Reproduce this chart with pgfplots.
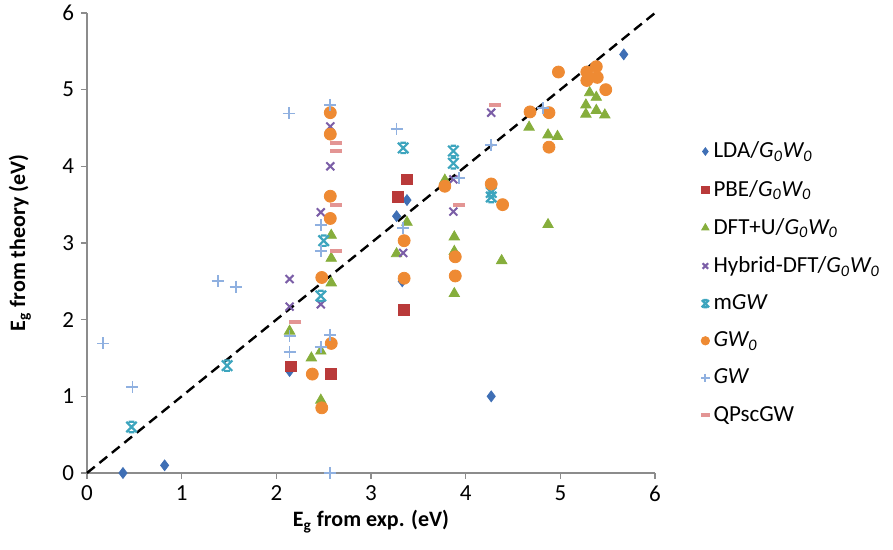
\documentclass[border=0pt]{standalone}
\usepackage{fontspec}
\setmainfont{Carlito}
\usepackage{pgfplots}
\pgfplotsset{compat=1.18}
\definecolor{cLDA}{HTML}{3F6FB5}
\definecolor{cPBE}{HTML}{B93A3A}
\definecolor{cDFTU}{HTML}{86AE3C}
\definecolor{cHyb}{HTML}{7B5EA7}
\definecolor{cmGW}{HTML}{3DA5BE}
\definecolor{cGWo}{HTML}{EE8A33}
\definecolor{cGW}{HTML}{8FB0E0}
\definecolor{cQP}{HTML}{E39594}
\definecolor{axgray}{HTML}{8C8C8C}
\pgfdeclareplotmark{mstar}{%
 \pgfpathmoveto{\pgfqpoint{-\pgfplotmarksize}{-\pgfplotmarksize}}%
 \pgfpathlineto{\pgfqpoint{\pgfplotmarksize}{\pgfplotmarksize}}%
 \pgfpathmoveto{\pgfqpoint{-\pgfplotmarksize}{\pgfplotmarksize}}%
 \pgfpathlineto{\pgfqpoint{\pgfplotmarksize}{-\pgfplotmarksize}}%
 \pgfpathmoveto{\pgfqpoint{-0.55\pgfplotmarksize}{\pgfplotmarksize}}%
 \pgfpathlineto{\pgfqpoint{0.55\pgfplotmarksize}{\pgfplotmarksize}}%
 \pgfpathmoveto{\pgfqpoint{-0.55\pgfplotmarksize}{-\pgfplotmarksize}}%
 \pgfpathlineto{\pgfqpoint{0.55\pgfplotmarksize}{-\pgfplotmarksize}}%
 \pgfusepathqstroke}
\begin{document}
\begin{tikzpicture}
\begin{axis}[
  scale only axis,
  width=284pt, height=230pt,
  xmin=0, xmax=6, ymin=0, ymax=6,
  xtick={0,1,...,6}, ytick={0,1,...,6},
  axis x line*=bottom, axis y line*=left,
  axis line style={axgray, line width=0.6pt},
  tick align=outside, major tick length=3pt,
  tick style={axgray, line width=0.6pt},
  /pgf/number format/assume math mode=true,
  ticklabel style={font=\fontsize{11.5}{13}\selectfont},
  xlabel={\textbf{E\textsubscript{g} from exp. (eV)}},
  ylabel={\textbf{E\textsubscript{g} from theory (eV)}},
  label style={font=\fontsize{11}{13}\selectfont},
  xlabel style={at={(axis description cs:0.5,-0.106)}, anchor=center},
  ylabel style={at={(axis description cs:-0.118,0.5)}, anchor=center},
  legend style={at={(1.07,0.413)}, anchor=west, draw=none, fill=none,
    row sep=5.6pt, font=\fontsize{11.5}{13}\selectfont},
  legend image post style={mark options={scale=0.7}},
  legend cell align=left,
  clip=false,
]
\addplot[only marks, mark=diamond*, mark size=2.7pt, color=cLDA] coordinates {
(0.38,0) (0.82,0.1) (2.14,1.33) (3.27,3.35) (3.38,3.56) (3.33,2.50) (4.27,1.00) (5.67,5.46)};
\addlegendentry{LDA/\textit{G\textsubscript{0}W\textsubscript{0}}}
\addplot[only marks, mark=square*, mark size=2.7pt, color=cPBE] coordinates {
(2.15,1.39) (2.58,1.29) (3.28,3.60) (3.38,3.83) (3.35,2.13)};
\addlegendentry{PBE/\textit{G\textsubscript{0}W\textsubscript{0}}}
\addplot[only marks, mark=triangle*, mark size=3.0pt, color=cDFTU] coordinates {
(2.14,1.85) (2.37,1.50) (2.47,1.59) (2.47,0.95) (2.58,2.48) (2.58,2.80) (2.58,3.10)
(3.27,2.86) (3.38,3.27) (3.78,3.82) (3.88,3.08) (3.88,2.89) (3.88,2.34) (4.38,2.77)
(4.67,4.51) (4.87,4.41) (4.97,4.39) (4.87,3.24) (5.31,4.96) (5.38,4.90) (5.27,4.80)
(5.38,4.73) (5.27,4.68) (5.47,4.67)};
\addlegendentry{DFT+U/\textit{G\textsubscript{0}W\textsubscript{0}}}
\addplot[only marks, mark=x, mark size=2.8pt, color=cHyb, line width=1pt] coordinates {
(2.14,2.17) (2.14,2.53) (2.47,2.20) (2.47,3.40) (2.57,4.52) (2.57,4.00) (3.34,2.87)
(3.87,3.83) (3.87,3.41) (4.27,4.70)};
\addlegendentry{Hybrid-DFT/\textit{G\textsubscript{0}W\textsubscript{0}}}
\addplot[only marks, mark=mstar, mark size=2.6pt, color=cmGW, line width=1.1pt] coordinates {
(0.47,0.60) (1.48,1.40) (2.47,2.31) (2.50,3.03) (3.34,4.24) (3.87,4.20) (3.87,4.04)
(4.27,3.66) (4.27,3.60)};
\addlegendentry{m\textit{GW}}
\addplot[only marks, mark=*, mark size=3.0pt, color=cGWo] coordinates {
(2.38,1.29) (2.48,0.85) (2.58,1.69) (2.48,2.55) (2.57,3.32) (2.57,3.61) (2.57,4.42)
(2.57,4.70) (3.35,3.03) (3.35,2.54) (3.78,3.74) (3.89,2.82) (3.89,2.57) (4.27,3.77)
(4.39,3.50) (4.68,4.71) (4.88,4.70) (4.88,4.25) (4.98,5.23) (5.28,5.23) (5.38,5.30)
(5.39,5.16) (5.28,5.12) (5.48,5.00)};
\addlegendentry{\textit{GW\textsubscript{0}}}
\addplot[only marks, mark=+, mark size=3pt, color=cGW, line width=0.9pt] coordinates {
(0.17,1.69) (0.48,1.12) (1.38,2.50) (1.57,2.43) (2.13,4.69) (2.14,1.79) (2.14,1.58)
(2.47,3.23) (2.47,2.90) (2.47,1.64) (2.57,1.80) (2.57,4.80) (2.57,0.0) (3.27,4.49)
(3.34,3.20) (3.93,3.85) (4.27,4.28) (4.82,4.76)};
\addlegendentry{\textit{GW}}
\addplot[only marks, mark=-, mark size=3pt, color=cQP, line width=2pt] coordinates {
(2.20,1.97) (2.63,2.90) (2.63,3.50) (2.63,4.20) (2.63,4.30) (3.93,3.50) (4.31,4.80)};
\addlegendentry{QPscGW}
\addplot[black, dashed, line width=1.2pt, dash pattern=on 5pt off 3pt, forget plot] coordinates {(0,0) (6,6)};
\end{axis}
\pgfresetboundingbox
\path (current axis.south west) ++(-43.5pt,-38.5pt) rectangle ++(446.5pt,275pt);
\end{tikzpicture}
\end{document}
